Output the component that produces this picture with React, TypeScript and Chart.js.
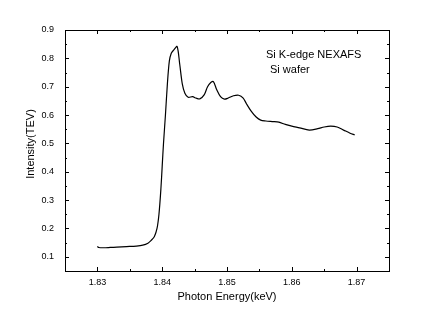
import React, { useEffect, useRef } from "react";
import { Chart, registerables } from "chart.js";

Chart.register(...registerables);

const energy = [
  1.83, 1.8302, 1.831, 1.832, 1.833, 1.8345, 1.836, 1.837, 1.8378, 1.8383,
  1.8388, 1.8392, 1.8395, 1.8398, 1.84, 1.8402, 1.8405, 1.8408, 1.8411, 1.8414,
  1.8418, 1.8423, 1.8427, 1.8431, 1.8435, 1.844, 1.8447, 1.8452, 1.8458, 1.8465,
  1.847, 1.8475, 1.8479, 1.8484, 1.849, 1.8496, 1.8502, 1.851, 1.8518, 1.8525,
  1.853, 1.8537, 1.8545, 1.8552, 1.856, 1.857, 1.858, 1.859, 1.86, 1.8612,
  1.8627, 1.864, 1.865, 1.866, 1.867, 1.868, 1.869, 1.8697,
];
const intensity = [
  0.137, 0.133, 0.132, 0.133, 0.134, 0.136, 0.138, 0.141, 0.148, 0.158,
  0.172, 0.2, 0.25, 0.34, 0.42, 0.5, 0.6, 0.71, 0.79, 0.818,
  0.83, 0.842, 0.78, 0.71, 0.677, 0.663, 0.665, 0.66, 0.657, 0.672,
  0.7, 0.715, 0.718, 0.69, 0.665, 0.656, 0.66, 0.668, 0.67, 0.66,
  0.64, 0.615, 0.593, 0.582, 0.579, 0.577, 0.575, 0.567, 0.561, 0.555,
  0.547, 0.552, 0.558, 0.561, 0.558, 0.547, 0.536, 0.53,
];
const xTicks = [1.83, 1.84, 1.85, 1.86, 1.87];
const yTicks = [0.1, 0.2, 0.3, 0.4, 0.5, 0.6, 0.7, 0.8, 0.9];
const xMinor = [1.825, 1.835, 1.845, 1.855, 1.865, 1.875];
const yMinor = [0.05, 0.15, 0.25, 0.35, 0.45, 0.55, 0.65, 0.75, 0.85];
const xTitle = "Photon Energy(keV)";
const yTitle = "Intensity(TEV)";
const noteLines = ["Si K-edge NEXAFS", "Si wafer"];

const FONT = "'Liberation Sans', Arial, sans-serif";

const framePlugin = {
  id: "frame",
  afterDraw(chart: any) {
    const { ctx, chartArea } = chart;
    const xs = chart.scales.x;
    const ys = chart.scales.y;
    const { left, right, top, bottom } = chartArea;
    ctx.save();
    ctx.strokeStyle = "#000";
    ctx.lineWidth = 1;
    ctx.beginPath();
    ctx.rect(Math.round(left) + 0.5, Math.round(top) + 0.5, Math.round(right - left), Math.round(bottom - top));
    ctx.stroke();
    const tick = (vals: number[], len: number) => {
      vals.forEach((v) => {
        const px = Math.round(xs.getPixelForValue(v)) + 0.5;
        if (px < left - 0.5 || px > right + 1) return;
        ctx.beginPath();
        ctx.moveTo(px, bottom);
        ctx.lineTo(px, bottom - len);
        ctx.moveTo(px, top);
        ctx.lineTo(px, top + len);
        ctx.stroke();
      });
    };
    const tickY = (vals: number[], len: number) => {
      vals.forEach((v) => {
        const py = Math.round(ys.getPixelForValue(v)) + 0.5;
        if (py < top - 0.5 || py > bottom + 1) return;
        ctx.beginPath();
        ctx.moveTo(left, py);
        ctx.lineTo(left + len, py);
        ctx.moveTo(right, py);
        ctx.lineTo(right - len, py);
        ctx.stroke();
      });
    };
    tick(xTicks, 4);
    tick(xMinor, 2);
    tickY(yTicks, 4);
    tickY(yMinor, 2);

    ctx.fillStyle = "#000";
    ctx.font = `11px ${FONT}`;
    ctx.textBaseline = "middle";
    ctx.textAlign = "left";
    ctx.fillText(noteLines[0], 266, 55);
    ctx.fillText(noteLines[1], 270, 70);

    ctx.translate(31, 144);
    ctx.rotate(-Math.PI / 2);
    ctx.textAlign = "center";
    ctx.fillText(yTitle, 0, 0);
    ctx.restore();
  },
};

export default function App() {
  const ref = useRef<HTMLCanvasElement>(null);
  useEffect(() => {
    if (!ref.current) return;
    const chart = new Chart(ref.current, {
      type: "scatter",
      data: {
        datasets: [
          {
            data: energy.map((x, i) => ({ x, y: intensity[i] })),
            showLine: true,
            borderColor: "#000",
            borderWidth: 1.2,
            pointRadius: 0,
            tension: 0.3,
            fill: false,
          },
        ],
      },
      options: {
        animation: false,
        responsive: false,
        events: [],
        layout: { padding: { left: 0, top: 30, right: 37, bottom: 0 } },
        plugins: { legend: { display: false }, tooltip: { enabled: false } },
        scales: {
          x: {
            type: "linear",
            min: 1.825,
            max: 1.875,
            afterBuildTicks: (s: any) => {
              s.ticks = xTicks.map((v) => ({ value: v }));
            },
            afterFit: (s: any) => {
              s.height = 49;
            },
            grid: { display: false, drawTicks: false },
            border: { display: true, color: "#000", width: 1 },
            ticks: {
              color: "#000",
              font: { family: FONT, size: 9 },
              padding: 6,
              maxRotation: 0,
              autoSkip: false,
              callback: (v: any) => Number(v).toFixed(2),
            },
            title: {
              display: true,
              text: xTitle,
              color: "#000",
              font: { family: FONT, size: 11 },
              padding: { top: 0, bottom: 16 },
            },
          },
          y: {
            type: "linear",
            min: 0.05,
            max: 0.9,
            afterBuildTicks: (s: any) => {
              s.ticks = yTicks.map((v) => ({ value: v }));
            },
            afterFit: (s: any) => {
              s.width = 65;
            },
            grid: { display: false, drawTicks: false },
            border: { display: true, color: "#000", width: 1 },
            ticks: {
              color: "#000",
              font: { family: FONT, size: 9 },
              padding: 11,
              autoSkip: false,
              callback: (v: any) => Number(v).toFixed(1),
            },
          },
        },
      },
      plugins: [framePlugin],
    } as any);
    return () => chart.destroy();
  }, []);
  return (
    <div style={{ position: "fixed", left: 0, top: 0, width: 426, height: 320, background: "#fff" }}>
      <canvas ref={ref} width={426} height={320} />
    </div>
  );
}
